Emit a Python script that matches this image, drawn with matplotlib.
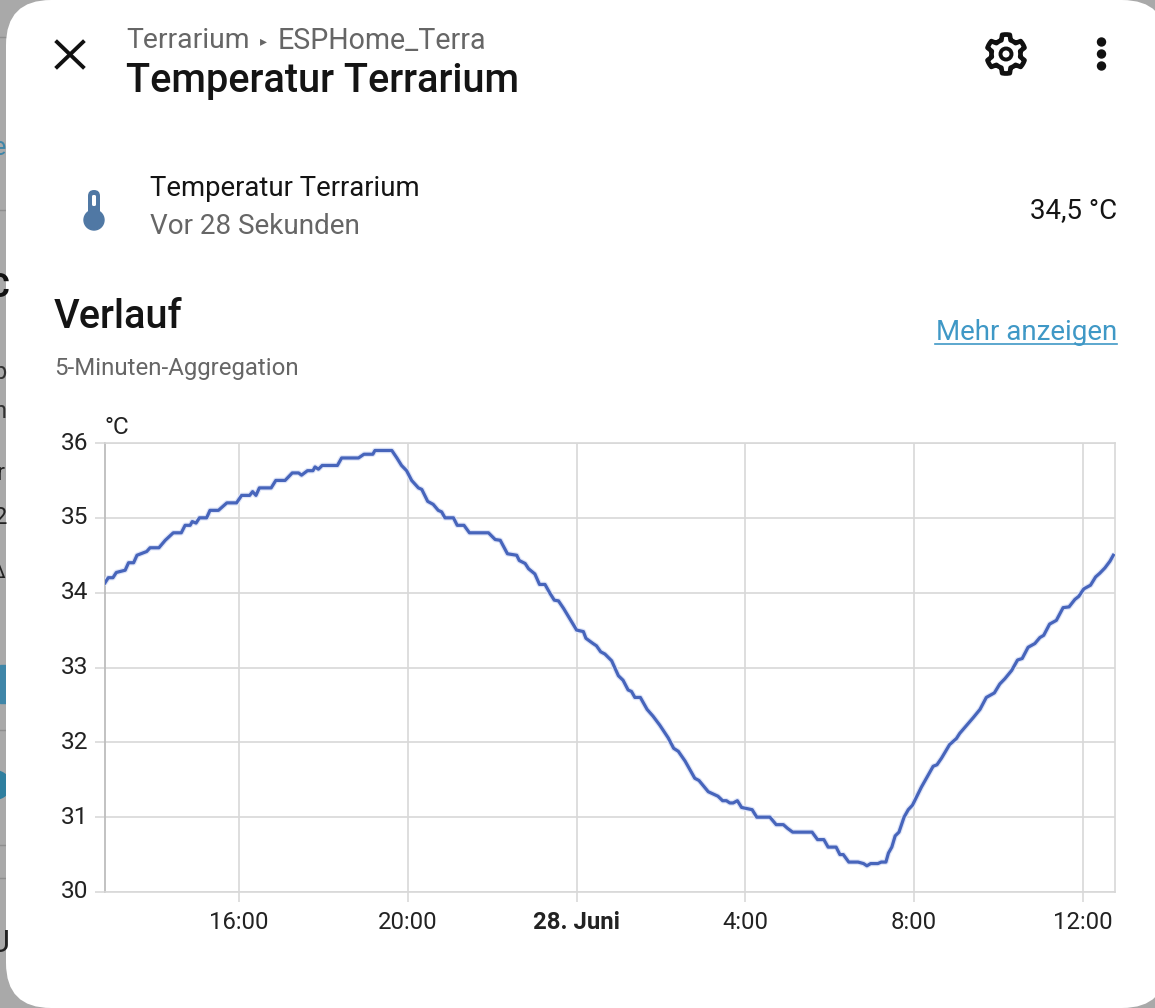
import matplotlib
matplotlib.use("Agg")
import matplotlib.pyplot as plt
import numpy as np
from matplotlib.patches import FancyBboxPatch, Circle, Polygon, Rectangle

plt.rcParams['font.family'] = ['Roboto', 'DejaVu Sans']
plt.rcParams['ytick.alignment'] = 'center'

# hours counted from midnight of the first day
hours = [12.82, 12.90, 13.01, 13.09, 13.30, 13.38, 13.50, 13.58, 13.81, 13.89, 14.10, 14.25, 14.44, 14.63,
         14.72, 14.84, 14.89, 14.98, 15.06, 15.23, 15.31, 15.51, 15.71, 15.94, 16.06, 16.25, 16.32, 16.40,
         16.48, 16.76, 16.87, 17.09, 17.26, 17.41, 17.48, 17.62, 17.75, 17.80, 17.88, 17.97, 18.33, 18.43,
         18.83, 18.96, 19.17, 19.22, 19.62, 19.74, 19.85, 19.97, 20.09, 20.25, 20.33, 20.47, 20.60, 20.72,
         20.80, 20.88, 21.08, 21.17, 21.33, 21.46, 21.91, 22.07, 22.19, 22.36, 22.58, 22.64, 22.78, 22.86,
         23.01, 23.12, 23.25, 23.37, 23.47, 23.57, 23.69, 23.84, 24.00, 24.16, 24.22, 24.39, 24.47, 24.57,
         24.67, 24.83, 24.99, 25.10, 25.22, 25.30, 25.38, 25.51, 25.67, 25.81, 25.97, 26.17, 26.30, 26.41,
         26.57, 26.68, 26.80, 26.90, 27.12, 27.35, 27.46, 27.55, 27.63, 27.71, 27.81, 27.91, 28.16, 28.27,
         28.58, 28.73, 28.90, 29.00, 29.12, 29.58, 29.71, 29.86, 29.96, 30.15, 30.24, 30.32, 30.45, 30.67,
         30.80, 30.88, 30.97, 31.14, 31.22, 31.33, 31.39, 31.47, 31.55, 31.64, 31.76, 31.86, 31.96, 32.17,
         32.45, 32.54, 32.65, 32.84, 33.00, 33.08, 33.40, 33.56, 33.71, 33.90, 34.03, 34.15, 34.31, 34.45,
         34.56, 34.70, 34.86, 34.98, 35.07, 35.21, 35.37, 35.53, 35.67, 35.81, 35.90, 36.02, 36.18, 36.30,
         36.40, 36.52, 36.64, 36.72]
temps = [34.13, 34.20, 34.20, 34.27, 34.30, 34.40, 34.40, 34.50, 34.55, 34.60, 34.60, 34.70, 34.80, 34.80,
         34.90, 34.90, 34.95, 34.93, 35.00, 35.00, 35.10, 35.10, 35.20, 35.20, 35.30, 35.30, 35.35, 35.30,
         35.40, 35.40, 35.50, 35.50, 35.60, 35.60, 35.57, 35.63, 35.63, 35.68, 35.65, 35.70, 35.70, 35.80,
         35.80, 35.85, 35.85, 35.90, 35.90, 35.80, 35.70, 35.63, 35.50, 35.40, 35.38, 35.22, 35.18, 35.10,
         35.08, 35.00, 35.00, 34.90, 34.90, 34.80, 34.80, 34.71, 34.70, 34.52, 34.50, 34.43, 34.39, 34.32,
         34.25, 34.11, 34.11, 33.99, 33.90, 33.89, 33.79, 33.65, 33.50, 33.48, 33.39, 33.32, 33.29, 33.21,
         33.18, 33.09, 32.89, 32.83, 32.70, 32.68, 32.60, 32.60, 32.44, 32.35, 32.23, 32.06, 31.92, 31.88,
         31.75, 31.64, 31.52, 31.49, 31.34, 31.28, 31.22, 31.22, 31.19, 31.19, 31.22, 31.13, 31.10, 31.00,
         31.00, 30.90, 30.90, 30.85, 30.80, 30.80, 30.70, 30.70, 30.60, 30.60, 30.50, 30.50, 30.40, 30.40,
         30.38, 30.35, 30.38, 30.38, 30.40, 30.40, 30.52, 30.60, 30.75, 30.80, 31.00, 31.10, 31.16, 31.40,
         31.68, 31.70, 31.79, 31.97, 32.05, 32.12, 32.33, 32.44, 32.60, 32.66, 32.78, 32.85, 32.96, 33.10,
         33.12, 33.27, 33.32, 33.40, 33.43, 33.58, 33.63, 33.80, 33.81, 33.91, 33.95, 34.05, 34.10, 34.21,
         34.26, 34.33, 34.42, 34.50]

x_ticks = [16, 20, 24, 28, 32, 36]
x_labels = ['16:00', '20:00', '28. Juni', '4:00', '8:00', '12:00']
y_ticks = [30, 31, 32, 33, 34, 35, 36]

W, H = 1155, 1008
fig = plt.figure(figsize=(W / 100, H / 100), dpi=100, facecolor='#a9a9a9')

# whole figure in pixel coords for the page around the chart
page = fig.add_axes([0, 0, 1, 1])
page.set_xlim(0, W)
page.set_ylim(H, 0)
page.axis('off')

# bits of the page behind the dialog
for y in [37, 210, 730, 845, 878]:
    page.plot([0, 6], [y, y], color='#8f8f8f', lw=1)
page.text(-7, 148, 'e', color='#3f86a8', fontsize=18, va='center')
page.text(-12, 288, 'C', color='#111111', fontsize=24, va='center', fontweight='bold')
page.text(-7, 372, 'p', color='#333333', fontsize=17, va='center')
page.text(-7, 411, 'n', color='#333333', fontsize=17, va='center')
page.text(-4, 473, 'r', color='#222222', fontsize=17, va='center')
page.text(-6, 517, '2', color='#222222', fontsize=17, va='center')
page.text(-9, 572, 'Δ', color='#222222', fontsize=15, va='center')
page.add_patch(Rectangle((0, 665), 6, 38, color='#3f86a8'))
page.add_patch(Circle((-4, 785), 14, color='#2f7f9f'))
page.text(-10, 943, 'U', color='#222222', fontsize=22, va='center')

card = FancyBboxPatch((6 + 45, 45), W + 12 - 6 - 90, H - 90, boxstyle='round,pad=45,rounding_size=45',
                      fc='white', ec='none', zorder=2)
page.add_patch(card)

# header icons
page.plot([57, 83], [42, 67], color='#111111', lw=2.8, zorder=3)
page.plot([83, 57], [42, 67], color='#111111', lw=2.8, zorder=3)

angles = np.linspace(0, 2 * np.pi, 48, endpoint=False)
radii = np.where((np.arange(48) % 8 < 4), 19.5, 14.5)
gear_x = 1006 + radii * np.cos(angles + np.pi / 2 - 1.5 * np.pi / 24)
gear_y = 54 + radii * np.sin(angles + np.pi / 2 - 1.5 * np.pi / 24)
page.add_patch(Polygon(np.column_stack([gear_x, gear_y]), closed=True, fc='white', ec='#111111', lw=3.4, zorder=3,
                       joinstyle='round'))
page.add_patch(Circle((1006, 54), 5.5, fc='white', ec='#111111', lw=2.8, zorder=4))
for y in [42, 54, 66]:
    page.add_patch(Circle((1101.5, y), 4, color='#111111', zorder=3))

# thermometer
page.add_patch(FancyBboxPatch((88, 190), 12, 30, boxstyle='round,pad=0,rounding_size=6',
                              fc='#5078a4', ec='none', zorder=3))
page.add_patch(Circle((94, 220), 10, color='#5078a4', zorder=3))
page.add_patch(FancyBboxPatch((92, 195), 4, 11, boxstyle='round,pad=0,rounding_size=1.5',
                              fc='white', ec='none', zorder=4))

# header texts
page.text(126, 41, 'Terrarium', color='#666666', fontsize=20.4, va='center', zorder=3)
page.text(260, 41, '▸', color='#666666', fontsize=10, va='center', family=['DejaVu Sans'], zorder=3)
page.text(278, 41, 'ESPHome_Terra', color='#666666', fontsize=20.6, va='center', zorder=3)
page.text(126, 81, 'Temperatur Terrarium', color='#141414', fontsize=28.6, va='center', fontweight='medium', zorder=3)
page.text(150, 188, 'Temperatur Terrarium', color='#141414', fontsize=19.8, va='center', zorder=3)
page.text(150, 226, 'Vor 28 Sekunden', color='#666666', fontsize=20.1, va='center', zorder=3)
page.text(1117, 212, '34,5 °C', color='#141414', fontsize=19.9, va='center', ha='right', zorder=3)
page.text(54, 317, 'Verlauf', color='#141414', fontsize=28.6, va='center', fontweight='medium', zorder=3)
page.text(1117, 333, 'Mehr anzeigen', color='#3f98c6', fontsize=20, va='center', ha='right', zorder=3)
page.plot([935, 1117], [344, 344], color='#3f98c6', lw=1.2, zorder=3)
page.text(54, 368, '5-Minuten-Aggregation', color='#666666', fontsize=17.3, va='center', zorder=3)
page.text(105, 428, '°C', color='#222222', fontsize=17.5, va='center', zorder=3)

# the chart
ax = fig.add_axes([104.5 / W, 1 - 892 / H, (1115 - 104.5) / W, (892 - 443) / H])
ax.patch.set_alpha(0)
ax.plot(hours, temps, color='#dfe5f8', lw=4, solid_capstyle='round', zorder=3)
ax.plot(hours, temps, color='#4765bb', lw=2.3, solid_joinstyle='round', zorder=4)
ax.set_xlim(12.81, 36.76)
ax.set_ylim(30, 36)
ax.set_xticks(x_ticks)
ax.set_xticklabels(x_labels)
ax.set_yticks(y_ticks)
ax.grid(True, color='#d8d8d8', lw=1.2)
ax.set_axisbelow(True)
ax.tick_params(axis='both', length=7, width=1.1, color='#d6d6d6', labelcolor='#222222')
ax.tick_params(axis='y', labelsize=17.6, pad=4.5)
ax.tick_params(axis='x', labelsize=17.2, pad=7)
ax.get_xticklabels()[2].set_fontweight('bold')
for name in ['top', 'right', 'bottom']:
    ax.spines[name].set_color('#d8d8d8')
    ax.spines[name].set_linewidth(1.2)
ax.spines['left'].set_color('#bdbdbd')
ax.spines['left'].set_linewidth(1.3)

fig.savefig('out.png', dpi=100, facecolor=fig.get_facecolor())
